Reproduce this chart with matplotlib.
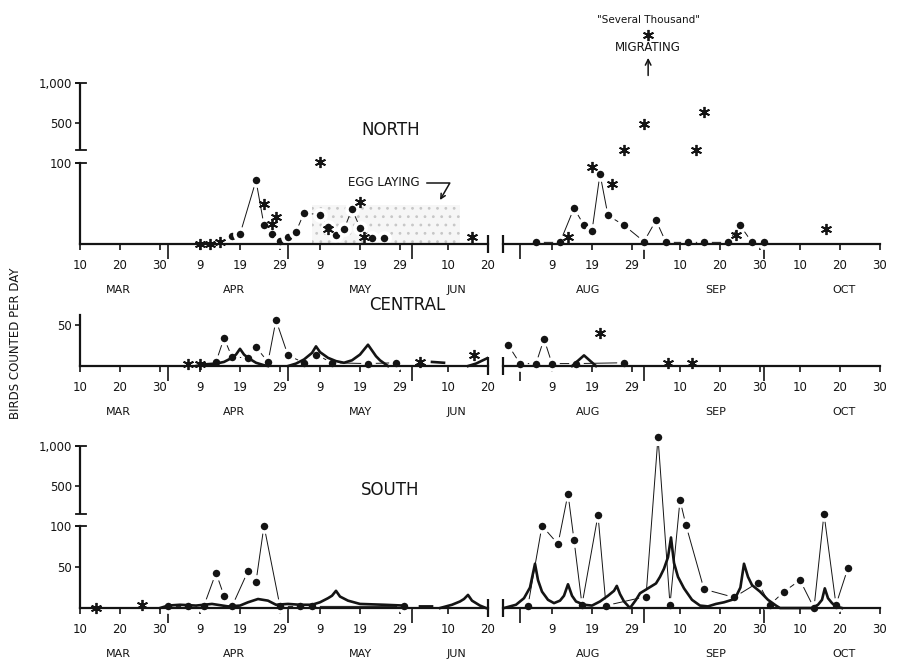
import numpy as np
import matplotlib.pyplot as plt

# day numbers counted from 1 March
MONTH_START = {3: 0, 4: 31, 5: 61, 6: 92, 7: 122, 8: 153, 9: 184, 10: 214}


def day(s):
    m, d = s.split('/')
    return MONTH_START[int(m)] + float(d) - 1


def days(lst):
    return np.array([day(s) for s in lst])


nan = np.nan

# ---------------- NORTH ----------------
north_dot_dates_spring = ["4/17", "4/19", "4/23", "4/25", "4/27", "4/29", "5/1", "5/3", "5/5",
                          "5/9", "5/11", "5/13", "5/15", "5/17", "5/19", "5/22", "5/25"]
north_dot_vals_spring = [10, 12, 78, 23, 12, 4, 9, 15, 38, 36, 21, 11, 18, 43, 20, 7, 7]
north_star_dates_spring = ["4/9", "4/11.5", "4/14", "4/25", "4/27", "4/28", "5/9", "5/11",
                           "5/19", "5/20", "6/16"]
north_star_vals_spring = [0, 0, 2, 49, 25, 33, 103, 19, 51, 8, 8]

north_dot_dates_fall = ["8/5", "8/11", "8/14.5", "8/17", "8/19", "8/21", "8/23", "8/27", "9/1",
                        "9/4", "9/6.5", "9/12", "9/16", "9/22", "9/25", "9/28", "10/1"]
north_dot_vals_fall = [2, 2, 44, 23, 16, 86, 35, 23, 3, 29, 2, 2, 2, 2, 23, 2, 3]
north_star_dates_fall = ["8/13", "8/19", "8/24", "8/27", "9/1", "9/14", "9/16", "9/24", "10/16.5"]
north_star_vals_fall = [9, 95, 74, 155, 480, 155, 630, 11, 18]
# "several thousand" migrating, drawn off the scale
north_thousands_date = ["9/2"]
north_thousands_val = [1600]

egg_laying_dates = ["5/7", "6/13"]
egg_laying_level = 48

# ---------------- CENTRAL ----------------
central_dot_dates_spring = ["4/13", "4/15", "4/17", "4/21", "4/23", "4/26", "4/28", "5/1", "5/5",
                            "5/8", "5/12", "5/21", "5/28"]
central_dot_vals_spring = [5, 34, 11, 10, 23, 5, 56, 13, 4, 14, 4, 3, 4]
central_star_dates_spring = ["4/6", "4/9", "6/3", "6/16.5"]
central_star_vals_spring = [2, 3, 5, 13]
central_curve_dates_spring = ["4/8", "4/10", "4/13", "4/15", "4/17", "4/18", "4/19", "4/20", "4/21",
                              "4/23", "4/25", "4/26", "4/28",
                              "5/1", "5/3", "5/5", "5/7", "5/8", "5/9", "5/11", "5/13", "5/15",
                              "5/17", "5/19", "5/21", "5/23", "5/24", "5/26", "5/30",
                              "6/6", "6/9", "6/12", "6/15", "6/17", "6/20"]
central_curve_vals_spring = [0, 2, 3, 5, 10, 14, 21, 14, 10, 4, 1, 0, nan,
                             0, 3, 8, 16, 24, 17, 10, 6, 4, 7, 14, 26, 12, 7, 0, nan,
                             5, 4, nan, 0, 3, 10]

central_dot_dates_fall = ["7/29", "8/1", "8/5", "8/7", "8/9", "8/15", "8/27"]
central_dot_vals_fall = [26, 3, 3, 33, 3, 3, 4]
central_star_dates_fall = ["8/21", "9/7", "9/13"]
central_star_vals_fall = [40, 4, 4]
central_curve_dates_fall = ["8/14", "8/17", "8/20"]
central_curve_vals_fall = [0, 13, 0]

# ---------------- SOUTH ----------------
south_dot_dates_spring = ["4/1", "4/6", "4/10", "4/13", "4/15", "4/17", "4/21", "4/23", "4/25",
                          "4/29", "5/4", "5/7", "5/30"]
south_dot_vals_spring = [2, 2, 3, 43, 15, 2, 45, 32, 101, 2, 2, 2, 2]
south_star_dates_spring = ["3/14", "3/25.5"]
south_star_vals_spring = [0, 4]
south_curve_dates_spring = ["3/30", "4/1", "4/4", "4/8", "4/12", "4/16", "4/19", "4/21", "4/23.5",
                            "4/26", "4/28", "5/1", "5/4", "5/7", "5/9", "5/11", "5/12", "5/13",
                            "5/14", "5/16", "5/19", "5/25", "5/30", "6/1",
                            "6/3", "6/6", "6/7",
                            "6/8", "6/11", "6/13", "6/14", "6/15", "6/16", "6/18", "6/19.5"]
south_curve_vals_spring = [0, 3, 4, 3, 5, 2, 3, 7, 11, 9, 4, 5, 4, 4, 7, 12, 15, 21, 14, 9, 5, 4, 3,
                           nan, 2, 2, nan, 0, 4, 8, 11, 16, 9, 3, 0]

south_dot_dates_fall = ["8/3", "8/6.5", "8/10.5", "8/13", "8/14.5", "8/16.5", "8/20.5", "8/22.5",
                        "9/1.5", "9/4.5", "9/7.5", "9/10", "9/11.5", "9/16", "9/23.5", "9/29.5",
                        "10/2.5", "10/6", "10/10", "10/13.5", "10/16", "10/19", "10/22"]
# the 1300 point is drawn just above the 1,000 mark
south_dot_vals_fall = [3, 101, 78, 400, 83, 4, 145, 3, 14, 1110, 4, 320, 103, 23, 13, 31, 4, 20,
                       34, 0, 150, 4, 49]
south_curve_dates_fall = ["7/28", "7/31", "8/2", "8/3.5", "8/4.75", "8/5.5", "8/6.5", "8/8", "8/9.5",
                          "8/11", "8/12", "8/13", "8/14", "8/15", "8/17", "8/19", "8/21", "8/23",
                          "8/24.5", "8/25.2", "8/26", "8/27", "8/28.5", "8/30", "8/31", "9/2",
                          "9/4", "9/5", "9/6", "9/7", "9/7.75", "9/8.5", "9/9.5", "9/11", "9/13",
                          "9/15", "9/17", "9/19", "9/21", "9/23", "9/24", "9/25.1", "9/26", "9/27",
                          "9/28", "9/30", "10/2", "10/4", "10/5", "10/13", "10/14.5", "10/15.5",
                          "10/16.2", "10/17", "10/18", "10/19", "10/20.5"]
south_curve_vals_fall = [0, 4, 12, 25, 54, 34, 20, 10, 6, 9, 15, 29, 15, 8, 4, 3, 8, 15, 21, 27,
                         17, 8, 0, 10, 18, 24, 30, 38, 48, 62, 86, 55, 38, 24, 10, 3, 2, 5, 7, 10,
                         14, 25, 54, 38, 28, 20, 10, 3, 0, 0, 4, 10, 24, 12, 6, 2, 0]

# ---------------- axes labels ----------------
left_ticks = ["3/10", "3/20", "3/30", "4/9", "4/19", "4/29", "5/9", "5/19", "5/29", "6/10", "6/20"]
left_ticklabels = ["10", "20", "30", "9", "19", "29", "9", "19", "29", "10", "20"]
left_bounds = ["4/1", "5/1", "6/1"]
left_months = ["MAR", "APR", "MAY", "JUN"]
left_month_pos = ["3/19.5", "4/17.5", "5/19", "6/12"]

right_ticks = ["8/9", "8/19", "8/29", "9/10", "9/20", "9/30", "10/10", "10/20", "10/30"]
right_ticklabels = ["9", "19", "29", "10", "20", "30", "10", "20", "30"]
right_bounds = ["8/1", "9/1", "10/1"]
right_months = ["AUG", "SEP", "OCT"]
right_month_pos = ["8/18", "9/19", "10/21"]

broken_yticks = [50, 100, 500, 1000]
broken_ylabels = ["50", "100", "500", "1,000"]


# broken y axis: 0-100 linear, 100-150 squeezed, 150-1000 compressed
def fwd(v):
    v = np.asarray(v, float)
    return np.where(v <= 100, v,
                    np.where(v <= 150, 100 + (v - 100) * 0.298, 114.9 + (v - 150) * 0.0975))


def inv(f):
    f = np.asarray(f, float)
    return np.where(f <= 100, f,
                    np.where(f <= 114.9, 100 + (f - 100) / 0.298, 150 + (f - 114.9) / 0.0975))


K = '#141414'
W, H = 897, 659
plt.rcParams['hatch.linewidth'] = 0.8
fig = plt.figure(figsize=(W / 100, H / 100), dpi=100)


def px_axes(x0, x1, ytop, ybot):
    return fig.add_axes([x0 / W, 1 - ybot / H, (x1 - x0) / W, (ybot - ytop) / H])


def style_x(ax, lo, hi, ticks, labels, bounds, months, month_pos):
    ax.set_xlim(lo, hi)
    for s in ('top', 'right'):
        ax.spines[s].set_visible(False)
    ax.spines['bottom'].set_position(('data', 0))
    ax.spines['bottom'].set_linewidth(1.6)
    ax.spines['bottom'].set_color(K)
    ax.set_xticks(days(ticks))
    ax.set_xticklabels(labels)
    ax.set_xticks(days(bounds), minor=True)
    ax.tick_params(axis='x', which='major', direction='out', length=4, width=1.2,
                   pad=7, labelsize=8.5, colors=K)
    ax.tick_params(axis='x', which='minor', direction='out', length=11, width=1.2, colors=K)
    for name, p in zip(months, days(month_pos)):
        ax.annotate(name, xy=(p, 0), xytext=(0, -33), textcoords='offset points',
                    ha='center', va='center', fontsize=8, color=K)
    ax.patch.set_visible(False)


def style_y(ax, broken, top):
    ax.spines['left'].set_linewidth(1.6)
    ax.spines['left'].set_color(K)
    ax.tick_params(axis='y', direction='out', length=3.5, width=1.2, pad=2,
                   labelsize=8.5, colors=K)
    x0 = ax.get_xlim()[0]
    if broken:
        ax.spines['left'].set_bounds(0, 100)
        ax.plot([x0, x0], [150, 1000], color=K, lw=1.6, clip_on=False, solid_capstyle='butt')
        for v in (100, 150, 1000):
            ax.plot([x0 - 1, x0 + 1.6], [v, v], color=K, lw=1.3, clip_on=False)
    else:
        ax.spines['left'].set_bounds(0, top)


def dots(ax, d, v):
    x = days(d)
    ax.plot(x, v, color=K, lw=0.7, zorder=2)
    ax.plot(x, v, 'o', ms=8, mfc=K, mec='white', mew=2.6, zorder=2.1, clip_on=False)


def stars(ax, d, v, ms=8):
    ax.plot(days(d), v, ls='none', marker=(6, 2, 0), ms=ms, mec=K, mew=1.3,
            zorder=2.3, clip_on=False)


def curve(ax, d, v):
    ax.plot(days(d), v, color=K, lw=1.9, zorder=2.2, solid_joinstyle='round')


rows = [(83.0, 250.5, True, 1000), (315.2, 372.6, False, 62), (445.8, 614.6, True, 1000)]
panels = []
for ytop, ybot, broken, top in rows:
    axL = px_axes(80, 488, ytop, ybot)
    axR = px_axes(503, 880, ytop, ybot)
    for ax in (axL, axR):
        if broken:
            ax.set_yscale('function', functions=(fwd, inv))
        ax.set_ylim(-8, top)
    style_x(axL, day("3/10"), day("6/20"), left_ticks, left_ticklabels, left_bounds,
            left_months, left_month_pos)
    style_x(axR, day("8/1") - 4.25, day("10/30"), right_ticks, right_ticklabels, right_bounds,
            right_months, right_month_pos)
    style_y(axL, broken, top)
    axR.spines['left'].set_visible(False)
    axR.set_yticks([])
    # break marks on the date axis
    axL.plot([day("6/20")], [0], marker='|', ms=13, mew=1.6, color=K, clip_on=False)
    axR.plot([day("8/1") - 4.25], [0], marker='|', ms=13, mew=1.6, color=K, clip_on=False)
    panels.append((axL, axR))

# ---- North ----
nL, nR = panels[0]
nL.set_yticks(broken_yticks[1:])
nL.set_yticklabels(broken_ylabels[1:])
e = days(egg_laying_dates)
nL.fill_between(e, 0, egg_laying_level, facecolor='0.965', edgecolor='0.78', hatch='..',
                lw=0, zorder=1)
dots(nL, north_dot_dates_spring, north_dot_vals_spring)
stars(nL, north_star_dates_spring, north_star_vals_spring)
dots(nR, north_dot_dates_fall, north_dot_vals_fall)
stars(nR, north_star_dates_fall, north_star_vals_fall)
stars(nR, north_thousands_date, north_thousands_val)
nL.text(0.762, 0.72, 'NORTH', transform=nL.transAxes, ha='center', va='center',
        fontsize=12, color=K)
nL.annotate('EGG LAYING', xy=(day("6/8"), 54), xytext=(0.745, 0.403),
            textcoords='axes fraction', ha='center', va='center', fontsize=8.5, color=K,
            arrowprops=dict(arrowstyle='->', color=K, lw=1.1, relpos=(1, 0.5),
                            connectionstyle='angle,angleA=0,angleB=60,rad=0', shrinkA=3,
                            shrinkB=0))
nR.text(0.385, 1.376, '"Several Thousand"', transform=nR.transAxes, ha='center',
        va='center', fontsize=7.5, color=K)
nR.text(0.385, 1.209, 'MIGRATING', transform=nR.transAxes, ha='center', va='center',
        fontsize=8.5, color=K)
nR.annotate('', xy=(0.385, 1.150), xytext=(0.385, 1.045), xycoords='axes fraction',
            textcoords='axes fraction',
            arrowprops=dict(arrowstyle='->', color=K, lw=1.1, shrinkA=0, shrinkB=0))

# ---- Central ----
cL, cR = panels[1]
cL.set_yticks([50])
cL.set_yticklabels(["50"])
curve(cL, central_curve_dates_spring, central_curve_vals_spring)
dots(cL, central_dot_dates_spring, central_dot_vals_spring)
stars(cL, central_star_dates_spring, central_star_vals_spring)
curve(cR, central_curve_dates_fall, central_curve_vals_fall)
dots(cR, central_dot_dates_fall, central_dot_vals_fall)
stars(cR, central_star_dates_fall, central_star_vals_fall)
cL.text(0.801, 1.18, 'CENTRAL', transform=cL.transAxes, ha='center', va='center',
        fontsize=12, color=K)

# ---- South ----
sL, sR = panels[2]
sL.set_yticks(broken_yticks)
sL.set_yticklabels(broken_ylabels)
curve(sL, south_curve_dates_spring, south_curve_vals_spring)
dots(sL, south_dot_dates_spring, south_dot_vals_spring)
stars(sL, south_star_dates_spring, south_star_vals_spring)
curve(sR, south_curve_dates_fall, south_curve_vals_fall)
dots(sR, south_dot_dates_fall, south_dot_vals_fall)
i_max = int(np.argmax(south_dot_vals_fall))
sR.annotate('1300', xy=(day(south_dot_dates_fall[i_max]), south_dot_vals_fall[i_max]),
            xytext=(6, 1), textcoords='offset points', ha='left', va='center',
            fontsize=8.5, color=K)
sL.text(0.760, 0.738, 'SOUTH', transform=sL.transAxes, ha='center', va='center',
        fontsize=12, color=K)

fig.text(16 / W, 1 - 343 / H, 'BIRDS COUNTED PER DAY', rotation=90, ha='center',
         va='center', fontsize=8.5, color=K)

fig.savefig('out.png', dpi=100)
